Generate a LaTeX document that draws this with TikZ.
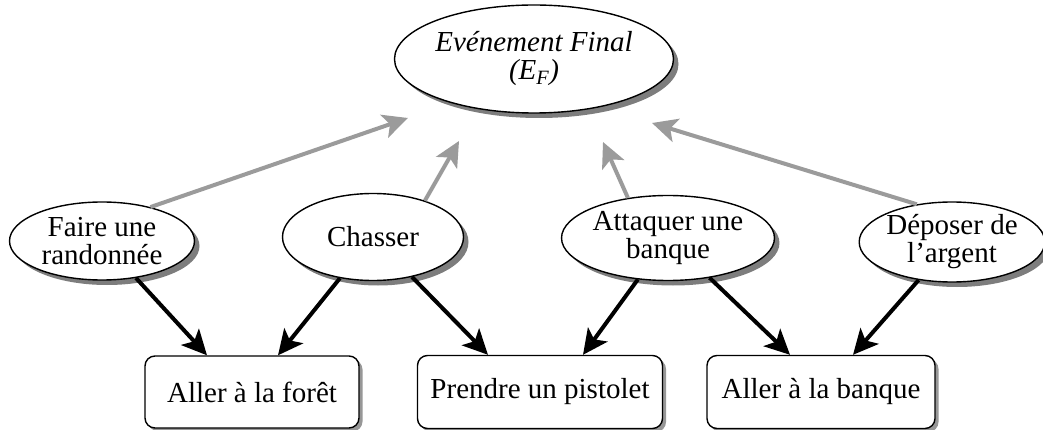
\documentclass[tikz,border=0pt]{standalone}
\usepackage{fontspec}
\setmainfont{Liberation Serif}
\usetikzlibrary{shapes.geometric,shadows,arrows.meta,calc}
\definecolor{linkgray}{RGB}{155,155,155}
\definecolor{shadowgray}{RGB}{125,125,125}
\begin{document}
\begin{tikzpicture}[x=1pt,y=-1pt,
  every node/.style={font=\fontsize{29}{28}\selectfont, align=center, inner sep=0pt},
  event/.style={ellipse, draw, line width=1.4pt, fill=white,
    drop shadow={shadow xshift=5pt, shadow yshift=-5pt, fill=shadowgray, opacity=1}},
  action/.style={rectangle, rounded corners=10pt, draw, line width=1.4pt, fill=white,
    drop shadow={shadow xshift=3.5pt, shadow yshift=-3.5pt, fill=shadowgray, opacity=0.8}},
  cause/.style={line width=4pt, -{Stealth[length=25pt, width=24pt, inset=6pt]}},
  effect/.style={line width=4pt, linkgray, -{Stealth[length=25pt, width=24pt, inset=6pt]}}
]
\useasboundingbox (0,0) rectangle (1043,430);

% final event
\node[event, minimum width=265pt, minimum height=108pt] (final) at (534,59)
  {\itshape Evénement Final\\\itshape (E\textsubscript{F})};

% intermediate events
\node[event, minimum width=185pt, minimum height=78pt] (rando) at (102,241) {Faire une\\randonnée};
\node[event, minimum width=181pt, minimum height=87pt] (chasse) at (373,237) {Chasser};
\node[event, minimum width=183pt, minimum height=85pt] (attaque) at (668,238) {Attaquer une\\banque};
\node[event, minimum width=180pt, minimum height=80pt] (depot) at (952,242) {Déposer de\\l’argent};

% elementary actions
\node[action, minimum width=214pt, minimum height=72pt] (foret) at (252,392) {Aller à la forêt};
\node[action, minimum width=245pt, minimum height=73pt] (pistolet) at (540,392) {Prendre un pistolet};
\node[action, minimum width=228pt, minimum height=73pt] (banque) at (821,392) {Aller à la banque};

% arrow tips below the final event
\coordinate (f1) at (408,118);
\coordinate (f2) at (459,141);
\coordinate (f3) at (603,142);
\coordinate (f4) at (652,123);

\draw[effect] (rando.35) -- (f1);
\draw[effect] (chasse.35) -- (f2);
\draw[effect] (attaque.135) -- (f3);
\draw[effect] (depot.133) -- (f4);

% arrow tips on the action boxes
\coordinate (a1) at ($(foret.north)+(-45,0)$);
\coordinate (a2) at ($(foret.north)+(26,0)$);
\coordinate (b1) at ($(pistolet.north)+(-52,0)$);
\coordinate (b2) at ($(pistolet.north)+(43,0)$);
\coordinate (c1) at ($(banque.north)+(-31,0)$);
\coordinate (c2) at ($(banque.north)+(32,0)$);

\draw[cause] (rando) -- (a1);
\draw[cause] (chasse) -- (a2);
\draw[cause] (chasse) -- (b1);
\draw[cause] (attaque) -- (b2);
\draw[cause] (attaque) -- (c1);
\draw[cause] (depot) -- (c2);
\end{tikzpicture}
\end{document}
